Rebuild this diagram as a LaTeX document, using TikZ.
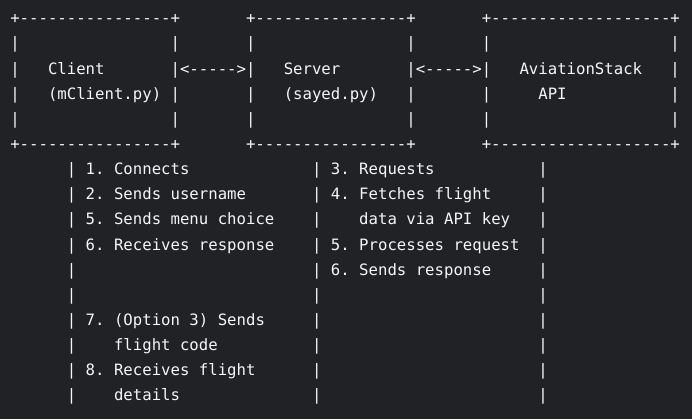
\documentclass[tikz,border=0pt]{standalone}
\usepackage{fontspec}
\setmonofont{DejaVu Sans Mono}
\definecolor{bgc}{HTML}{212226}
\definecolor{txc}{HTML}{F6F6F6}
\tikzset{
  txt/.style={anchor=base west, inner sep=0pt, outer sep=0pt, text=txc,
    font=\ttfamily\fontsize{11.75pt}{14pt}\selectfont}
}
\newcommand{\seg}[4]{\node[txt] (#1) at ({10.3+#2*9.43},{23.7+#3*25.15}) {#4};}
\begin{document}
\begin{tikzpicture}[x=0.75pt,y=-0.75pt]
\fill[bgc] (0,0) rectangle (692,419);
\useasboundingbox (0,0) rectangle (692,419);
% row 0
\seg{t0a}{0}{0}{+----------------+}
\seg{t0b}{25}{0}{+----------------+}
\seg{t0c}{50}{0}{+-------------------+}
% row 1
\seg{t1a}{0}{1}{|}\seg{t1b}{17}{1}{|}\seg{t1c}{25}{1}{|}\seg{t1d}{42}{1}{|}\seg{t1e}{50}{1}{|}\seg{t1f}{70}{1}{|}
% row 2
\seg{t2a}{0}{2}{|}
\seg{client}{4}{2}{Client}
\seg{arr1}{17}{2}{|<----->|}
\seg{server}{29}{2}{Server}
\seg{arr2}{42}{2}{|<----->|}
\seg{api}{54}{2}{AviationStack}
\seg{t2b}{70}{2}{|}
% row 3
\seg{t3a}{0}{3}{|}
\seg{clientf}{4}{3}{(mClient.py)}
\seg{t3b}{17}{3}{|}\seg{t3c}{25}{3}{|}
\seg{serverf}{29}{3}{(sayed.py)}
\seg{t3d}{42}{3}{|}\seg{t3e}{50}{3}{|}
\seg{apif}{56}{3}{API}
\seg{t3f}{70}{3}{|}
% row 4
\seg{t4a}{0}{4}{|}\seg{t4b}{17}{4}{|}\seg{t4c}{25}{4}{|}\seg{t4d}{42}{4}{|}\seg{t4e}{50}{4}{|}\seg{t4f}{70}{4}{|}
% row 5
\seg{t5a}{0}{5}{+----------------+}
\seg{t5b}{25}{5}{+----------------+}
\seg{t5c}{50}{5}{+-------------------+}
% rows 6-15
\seg{p6a}{6}{6}{|}\seg{s6a}{8}{6}{1. Connects}\seg{p6b}{32}{6}{|}\seg{s6b}{34}{6}{3. Requests}\seg{p6c}{56}{6}{|}
\seg{p7a}{6}{7}{|}\seg{s7a}{8}{7}{2. Sends username}\seg{p7b}{32}{7}{|}\seg{s7b}{34}{7}{4. Fetches flight}\seg{p7c}{56}{7}{|}
\seg{p8a}{6}{8}{|}\seg{s8a}{8}{8}{5. Sends menu choice}\seg{p8b}{32}{8}{|}\seg{s8b}{37}{8}{data via API key}\seg{p8c}{56}{8}{|}
\seg{p9a}{6}{9}{|}\seg{s9a}{8}{9}{6. Receives response}\seg{p9b}{32}{9}{|}\seg{s9b}{34}{9}{5. Processes request}\seg{p9c}{56}{9}{|}
\seg{p10a}{6}{10}{|}\seg{p10b}{32}{10}{|}\seg{s10b}{34}{10}{6. Sends response}\seg{p10c}{56}{10}{|}
\seg{p11a}{6}{11}{|}\seg{p11b}{32}{11}{|}\seg{p11c}{56}{11}{|}
\seg{p12a}{6}{12}{|}\seg{s12a}{8}{12}{7. (Option 3) Sends}\seg{p12b}{32}{12}{|}\seg{p12c}{56}{12}{|}
\seg{p13a}{6}{13}{|}\seg{s13a}{11}{13}{flight code}\seg{p13b}{32}{13}{|}\seg{p13c}{56}{13}{|}
\seg{p14a}{6}{14}{|}\seg{s14a}{8}{14}{8. Receives flight}\seg{p14b}{32}{14}{|}\seg{p14c}{56}{14}{|}
\seg{p15a}{6}{15}{|}\seg{s15a}{11}{15}{details}\seg{p15b}{32}{15}{|}\seg{p15c}{56}{15}{|}
\end{tikzpicture}
\end{document}
